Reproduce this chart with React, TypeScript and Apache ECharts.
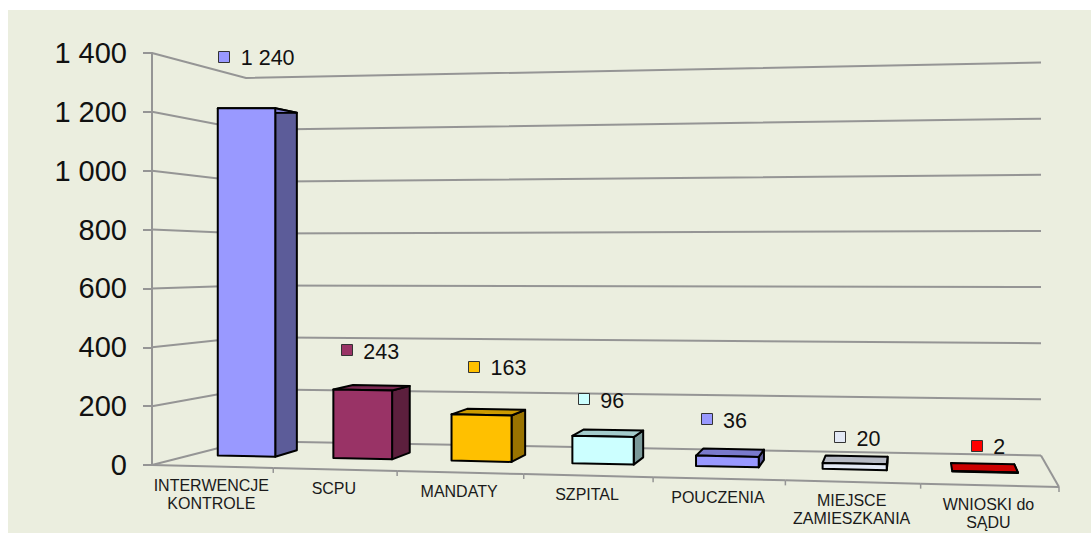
import React, { useEffect, useRef } from "react";
import * as echarts from "echarts";

const categories = ["INTERWENCJE\nKONTROLE", "SCPU", "MANDATY", "SZPITAL", "POUCZENIA", "MIEJSCE\nZAMIESZKANIA", "WNIOSKI do\nSĄDU"];
const values = [1240, 243, 163, 96, 36, 20, 2];
const frontColors = ["#9999FF", "#993366", "#FFC000", "#CCFFFF", "#9999FF", "#E3E9F5", "#FF0000"];
const yTicks = [0, 200, 400, 600, 800, 1000, 1200, 1400];
// label placement relative to each bar's front-top-left corner
const labelDx = [6, 13, 22, 11, 10, 17, 24];
const labelDy = [-52, -40, -48, -37, -37, -26, -26];

const FONT = '"Liberation Sans", Arial, sans-serif';
const GRID = { left: 152, top: 53, width: 906, height: 412 };
const FL = [152, 465], FR = [1059, 487], BR = [1041, 455.5], BL = [246, 441];
const H = { FL: 412, FR: 425, BL: 363, BR: 393 };
const WARP = 1.08;
const GRAY = "#959595";
const D0 = 0.42, D1 = 0.68, HALF = 0.25;

const lerp = (a: number, b: number, t: number) => a + (b - a) * t;
const warp = (u: number) => u / (u + (1 - u) * WARP);
const project = (u: number, d: number, v: number) => {
  const x = lerp(lerp(FL[0], FR[0], u), lerp(BL[0], BR[0], u), d);
  const y = lerp(lerp(FL[1], FR[1], u), lerp(BL[1], BR[1], u), d);
  const h = lerp(lerp(H.FL, H.FR, u), lerp(H.BL, H.BR, u), d);
  return [x, y - v * h];
};
const shade = (hex: string, k: number) => {
  const n = parseInt(hex.slice(1), 16);
  const c = [(n >> 16) & 255, (n >> 8) & 255, n & 255].map((q) => Math.round(q * k));
  return `rgb(${c[0]},${c[1]},${c[2]})`;
};
const fmt = (v: number) => String(v).replace(/\B(?=(\d{3})+$)/g, " ");
const valueFrac = (api: any, cs: any, v: number) => (cs.y + cs.height - api.coord([0, v])[1]) / cs.height;
const line = (points: number[][], width = 2) => ({
  type: "polyline",
  shape: { points },
  style: { stroke: GRAY, lineWidth: width, fill: "none" },
  silent: true,
});

const floorItem = (params: any, api: any) => {
  const i = api.value(0);
  const cs = params.coordSys;
  const n = categories.length;
  const cx = (api.coord([i, 0])[0] - cs.x) / cs.width;
  const uStart = warp(i / n), uEnd = warp((i + 1) / n), uMid = warp(cx);
  const a = project(uStart, 0, 0), b = project(uEnd, 0, 0), m = project(uMid, 0, 0);
  const children: any[] = [
    line([a, b]),
    line([b, [b[0], b[1] + 5]], 1.5),
    {
      type: "text",
      style: {
        text: categories[i], x: m[0] - 1, y: m[1] + 10, fill: "#1a1a1a",
        font: `16px ${FONT}`, textAlign: "center", textVerticalAlign: "top", lineHeight: 18,
      },
    },
  ];
  if (i === n - 1) children.push(line([project(1, 0, 0), project(1, 1, 0)]));
  return { type: "group", children };
};

const barItem = (params: any, api: any) => {
  const i = api.value(0);
  const cs = params.coordSys;
  const n = categories.length;
  const v = valueFrac(api, cs, api.value(1));
  const c = (api.coord([i, 0])[0] - cs.x) / cs.width;
  const half = (warp((i + 1) / n) - warp(i / n)) * HALF;
  const mid = warp(c) - 0.0025 * (1 - c * c * c);
  const l = mid - half, r = mid + half;
  const base = frontColors[i];
  const face = (pts: number[][], fill: string) => ({
    type: "polygon",
    shape: { points: pts },
    style: { fill, stroke: "#000", lineWidth: 2, lineJoin: "round" },
  });
  const ftl = project(l, D0, v), ftr = project(r, D0, v), fbr = project(r, D0, 0), fbl = project(l, D0, 0);
  const btl = project(l, D1, v), btr = project(r, D1, v), bbr = project(r, D1, 0);
  const sx = ftl[0] + labelDx[i], sy = ftl[1] + labelDy[i];
  return {
    type: "group",
    children: [
      face([ftr, btr, bbr, fbr], shade(base, 0.6)),
      face([ftl, btl, btr, ftr], shade(base, 0.8)),
      face([ftl, ftr, fbr, fbl], base),
      {
        type: "rect",
        shape: { x: Math.round(sx - 5.5) + 0.5, y: Math.round(sy - 5.5) + 0.5, width: 11, height: 11 },
        style: { fill: base, stroke: "#333", lineWidth: 1 },
      },
      {
        type: "text",
        style: {
          text: fmt(api.value(1)), x: sx + 17, y: sy + 2, fill: "#111",
          font: `21.5px ${FONT}`, textAlign: "left", textVerticalAlign: "middle",
        },
      },
    ],
  };
};

export default function App() {
  const ref = useRef<HTMLDivElement>(null);
  useEffect(() => {
    document.body.style.margin = "0";
    const chart = echarts.init(ref.current!, null, { renderer: "svg" });
    chart.setOption({
      animation: false,
      backgroundColor: "#ffffff",
      graphic: [{
        type: "rect", z: -10, silent: true,
        shape: { x: 8, y: 10, width: 1083, height: 523 },
        style: { fill: "#EBEEDF" },
      }],
      grid: { ...GRID, containLabel: false },
      xAxis: { type: "category", data: categories, show: false },
      yAxis: {
        type: "value", min: 0, max: 1400, interval: 200,
        axisLine: { show: true, lineStyle: { color: GRAY, width: 2 } },
        axisTick: { show: true, length: 9, lineStyle: { color: GRAY, width: 2 } },
        axisLabel: { fontFamily: FONT, fontSize: 29, color: "#111", margin: 25, formatter: (v: number) => fmt(v) },
        splitLine: { show: false },
      },
      series: [
        { type: "custom", coordinateSystem: "cartesian2d", data: yTicks.map((t) => [0, t]), encode: { x: 0 }, clip: false, silent: true, z: 1,
          renderItem: (p: any, api: any) => {
            const cs = p.coordSys;
            const v = valueFrac(api, cs, api.value(1));
            return line([project(0, 0, v), project(0, 1, v), project(1, 1, v)]);
          } },
        { type: "custom", coordinateSystem: "cartesian2d", data: categories.map((_, i) => [i, 0]), clip: false, silent: true, z: 2, renderItem: floorItem },
        { type: "custom", coordinateSystem: "cartesian2d", data: values.map((v, i) => [i, v]), clip: false, silent: true, z: 3, renderItem: barItem },
      ],
    });
    return () => chart.dispose();
  }, []);
  return <div ref={ref} style={{ width: 1091, height: 533 }} />;
}
